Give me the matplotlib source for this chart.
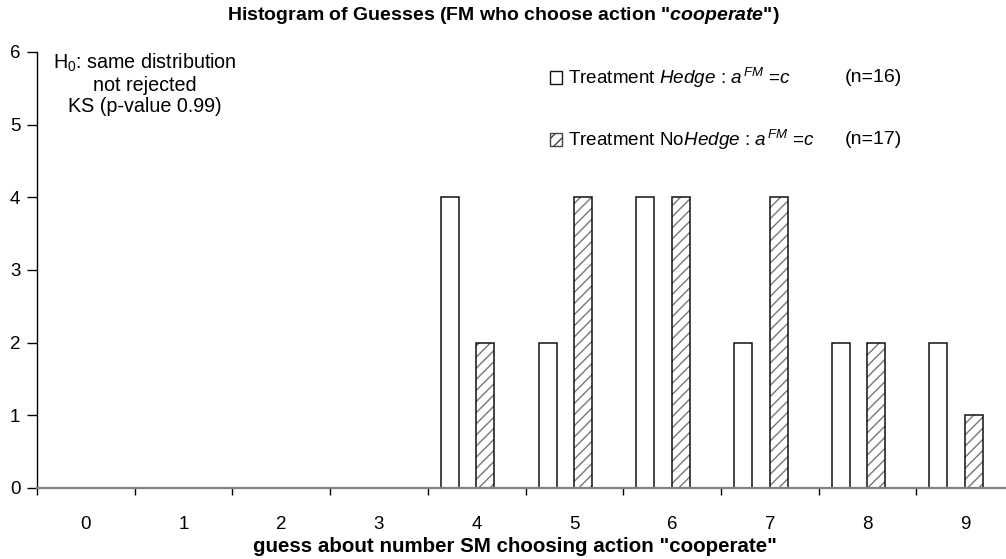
import matplotlib
matplotlib.use("Agg")
import matplotlib.pyplot as plt
import numpy as np
from matplotlib.patches import Rectangle

plt.rcParams['font.family'] = ['Liberation Sans', 'DejaVu Sans']
plt.rcParams['mathtext.fontset'] = 'custom'
plt.rcParams['mathtext.rm'] = 'Liberation Sans'
plt.rcParams['mathtext.it'] = 'Liberation Sans:italic'
plt.rcParams['mathtext.bf'] = 'Liberation Sans:bold'
plt.rcParams['mathtext.bfit'] = 'Liberation Sans:italic:bold'
plt.rcParams['hatch.linewidth'] = 1.0

categories = ['0', '1', '2', '3', '4', '5', '6', '7', '8', '9']
hedge = [0, 0, 0, 0, 4, 2, 4, 2, 2, 2]
nohedge = [0, 0, 0, 0, 2, 4, 4, 4, 2, 1]
n_hedge = 16
n_nohedge = 17
y_ticks = [0, 1, 2, 3, 4, 5, 6]

W, H = 1006, 559
fig = plt.figure(figsize=(W / 100, H / 100), dpi=100)
ax = fig.add_axes([37 / W, (H - 488) / H, 977 / W, 436 / H])

x = np.arange(len(categories))
bw = 0.184
off_h = -0.274
off_n = 0.09

ax.bar(x + off_h, hedge, width=bw, facecolor='white', edgecolor='#111111', linewidth=1.1, zorder=3)
ax.bar(x + off_n, nohedge, width=bw, facecolor='white', edgecolor='#777777', hatch='///', linewidth=0, zorder=3)
ax.bar(x + off_n, nohedge, width=bw, facecolor='none', edgecolor='#111111', linewidth=1.1, zorder=4)

ax.set_xlim(-0.5, 9.5)
ax.set_ylim(0, 6)
ax.set_yticks(y_ticks)
ax.set_xticks(x)
ax.set_xticklabels(categories)
ax.set_xticks(np.arange(-0.5, 10, 1), minor=True)
ax.tick_params(axis='x', which='major', length=0, pad=20, labelsize=13.5)
ax.tick_params(axis='x', which='minor', length=5, width=1, direction='out', color='black')
ax.tick_params(axis='y', length=7, width=1, direction='out', pad=5, labelsize=13.5)

for s in ['top', 'right']:
    ax.spines[s].set_visible(False)
ax.spines['left'].set_linewidth(1.0)
ax.spines['left'].set_color('black')
ax.spines['bottom'].set_color('#808080')
ax.spines['bottom'].set_linewidth(1.6)
ax.spines['bottom'].set_zorder(5)

fig.text(503 / W, 1 - 15 / H, 'Histogram of Guesses (FM who choose action "$\\mathbfit{cooperate}$")',
         ha='center', va='center', fontsize=14, fontweight='bold')
fig.text(515 / W, 1 - 547 / H, 'guess about number SM choosing action "cooperate"',
         ha='center', va='center', fontsize=14.8, fontweight='bold')

fig.text(145 / W, 1 - 84 / H, 'H$_0$: same distribution\nnot rejected\nKS (p-value 0.99)',
         ha='center', va='center', fontsize=14.2, linespacing=1.15)

lab_h = 'Treatment $\\it{Hedge}$ : $\\it{a}^{\\,\\it{FM}}$ =$\\it{c}$'
lab_n = 'Treatment No$\\it{Hedge}$ : $\\it{a}^{\\,\\it{FM}}$ =$\\it{c}$'
h1 = Rectangle((0, 0), 1, 1, facecolor='white', edgecolor='#111111', linewidth=1.0)
h2 = Rectangle((0, 0), 1, 1, facecolor='white', edgecolor='#444444', hatch='///', linewidth=1.0)
leg = ax.legend([h1, h2], [lab_h, lab_n], loc='upper left',
                bbox_to_anchor=((550 - 37) / 977, (488 - 66) / 436),
                frameon=False, fontsize=13.6, handlelength=0.65, handleheight=0.65,
                handletextpad=0.3, labelspacing=2.0, borderpad=0, borderaxespad=0)

fig.text(873 / W, 1 - 77 / H, '(n=%d)' % n_hedge, ha='center', va='center', fontsize=14)
fig.text(873 / W, 1 - 140 / H, '(n=%d)' % n_nohedge, ha='center', va='center', fontsize=14)

fig.savefig('out.png', dpi=100)
